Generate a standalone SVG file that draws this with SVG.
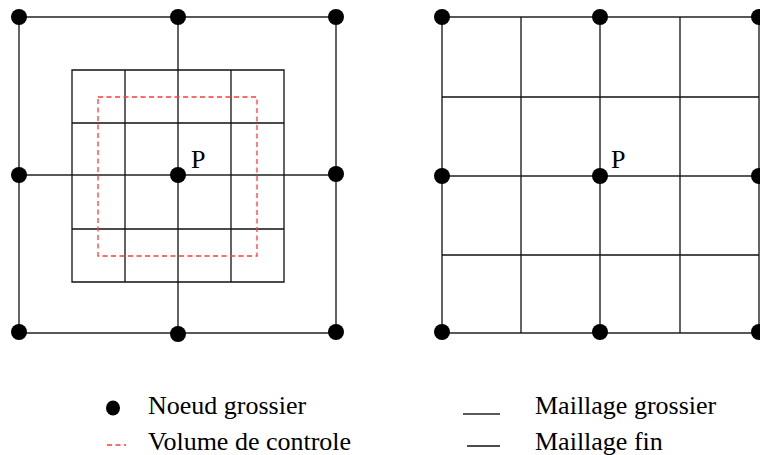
<svg xmlns="http://www.w3.org/2000/svg" width="760" height="455" viewBox="0 0 760 455">
<style>
.coarse{stroke:#222;stroke-width:1.4;fill:none}
.fine{stroke:#111;stroke-width:1.3;fill:none}
.cv{stroke:#ff3b3b;stroke-width:1.3;fill:none;stroke-dasharray:5 3.5}
.node{fill:#000}
.lbl{font-family:"Liberation Serif","Times New Roman",serif;font-size:26px;fill:#000}
</style>
<rect width="760" height="455" fill="#fff"/>
<g id="connectors">
<!-- left figure coarse mesh -->
<path class="coarse" d="M19 17H336M19 175H336M19 333H336M19 17V333M178 17V334M336 17V333"/>
<!-- left figure fine mesh -->
<path class="fine" d="M72 70H284V282H72ZM125 70V282M231 70V282M72 123H284M72 229H284"/>
<!-- control volume -->
<rect id="control-volume" class="cv" x="98" y="97" width="159" height="159"/>
<!-- right figure meshes -->
<path class="coarse" d="M442 17H759M442 176H759M442 333H759M442 17V333M600 17V333M759 17V333"/>
<path class="fine" d="M521 17V333M680 17V333M442 97H759M442 255H759"/>
</g>
<g id="nodes-left">
<circle id="nL1" class="node" cx="19" cy="17" r="8"/>
<circle id="nL2" class="node" cx="178" cy="17" r="8"/>
<circle id="nL3" class="node" cx="336" cy="17" r="8"/>
<circle id="nL4" class="node" cx="19" cy="175" r="8"/>
<circle id="nL5" class="node" cx="178" cy="175" r="8"/>
<circle id="nL6" class="node" cx="336" cy="174" r="8"/>
<circle id="nL7" class="node" cx="19" cy="332" r="8"/>
<circle id="nL8" class="node" cx="178" cy="334" r="8"/>
<circle id="nL9" class="node" cx="336" cy="332" r="8"/>
</g>
<g id="nodes-right">
<circle id="nR1" class="node" cx="442" cy="17" r="8"/>
<circle id="nR2" class="node" cx="600" cy="17" r="8"/>
<circle id="nR3" class="node" cx="759" cy="17" r="8"/>
<circle id="nR4" class="node" cx="442" cy="176" r="8"/>
<circle id="nR5" class="node" cx="600" cy="176" r="8"/>
<circle id="nR6" class="node" cx="759" cy="176" r="8"/>
<circle id="nR7" class="node" cx="442" cy="332" r="8"/>
<circle id="nR8" class="node" cx="600" cy="332" r="8"/>
<circle id="nR9" class="node" cx="759" cy="332" r="8"/>
</g>
<g id="labels">
<text class="lbl" x="191" y="167.5">P</text>
<text class="lbl" x="611" y="167.5">P</text>
</g>
<g id="legend">
<ellipse class="node" cx="113" cy="408" rx="7" ry="7.5"/>
<text class="lbl" x="148" y="414">Noeud grossier</text>
<line x1="107" y1="445" x2="126" y2="445" class="cv" stroke-dasharray="4 3"/>
<text class="lbl" x="148" y="450">Volume de controle</text>
<line x1="463" y1="414" x2="500" y2="414" class="coarse"/>
<text class="lbl" x="535" y="414">Maillage grossier</text>
<line x1="467" y1="446" x2="500" y2="446" class="fine"/>
<text class="lbl" x="535" y="450">Maillage fin</text>
</g>
</svg>
